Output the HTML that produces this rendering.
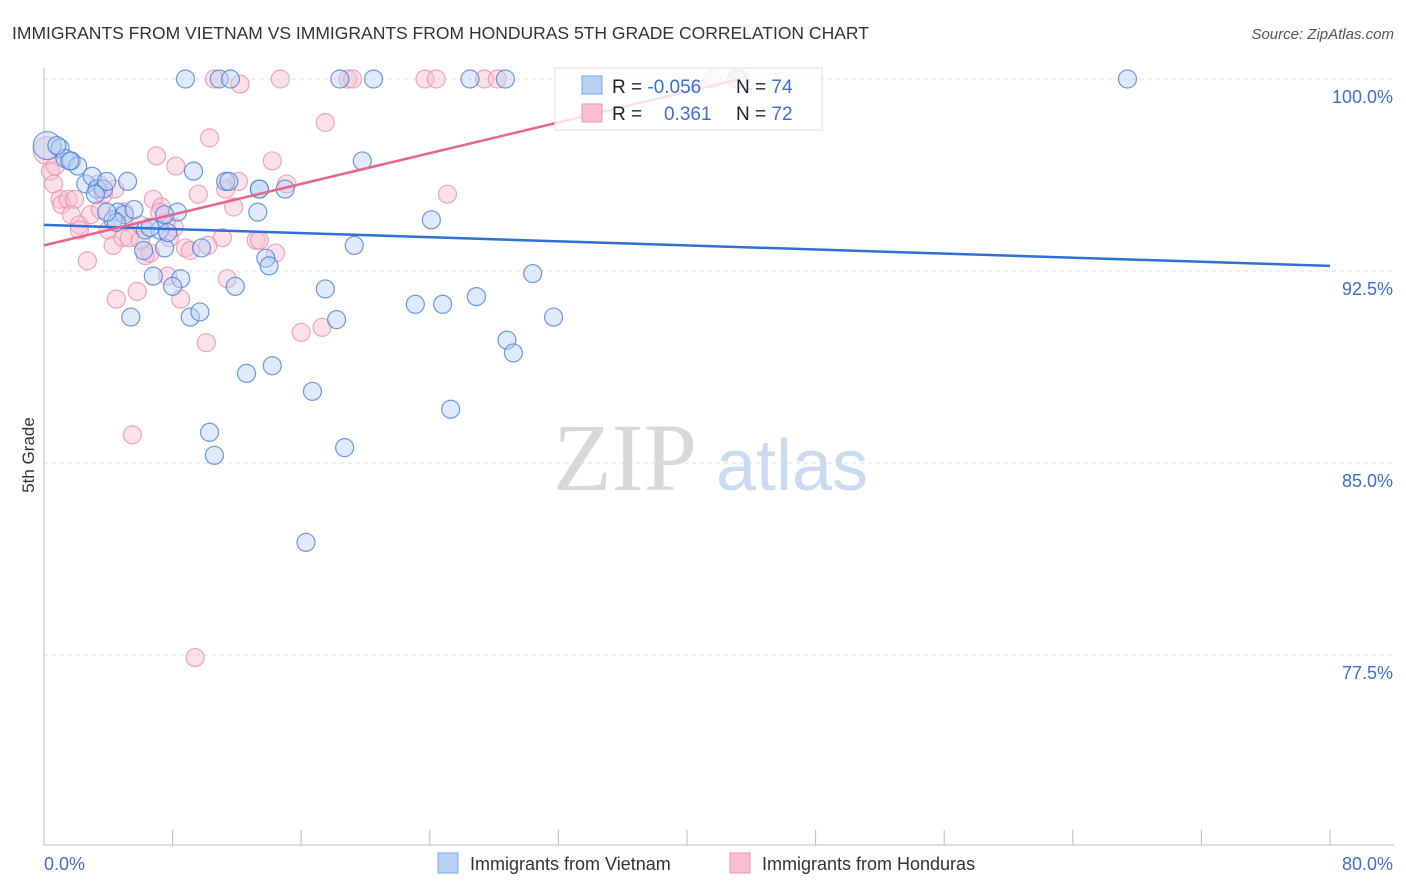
<!DOCTYPE html>
<html><head><meta charset="utf-8"><style>
body{margin:0;background:#fff;font-family:"Liberation Sans",sans-serif;}
#wrap{position:relative;width:1406px;height:892px;overflow:hidden;}
</style></head><body>
<div id="wrap">
<svg id="chart" width="1406" height="892" xmlns="http://www.w3.org/2000/svg">
<text x="12" y="39" font-size="17.5" fill="#333">IMMIGRANTS FROM VIETNAM VS IMMIGRANTS FROM HONDURAS 5TH GRADE CORRELATION CHART</text>
<text x="1394" y="39" font-size="15" fill="#555" font-style="italic" text-anchor="end">Source: ZipAtlas.com</text>
<text transform="translate(34,455) rotate(-90)" font-size="17" fill="#333" text-anchor="middle">5th Grade</text>
<g>
<text x="553" y="490" font-size="96" font-family="Liberation Serif,serif" fill="#d8d8d8">ZIP</text>
<text x="716" y="490" font-size="72" fill="#c9daf2">atlas</text>
</g>
<g id="grid"></g>
<g id="axes"></g>
<g id="points"></g>
<g id="trends"></g>
<g>
<rect x="555" y="68" width="267" height="62" fill="#fff" fill-opacity="0.8" stroke="#ddd"/>
<rect x="582" y="76" width="20" height="18" fill="#b8d1f5" stroke="#7da6e6"/>
<rect x="582" y="104" width="20" height="18" fill="#f7bfd0" stroke="#ee97b2"/>
<text x="612" y="93" font-size="19" fill="#222">R = <tspan fill="#3b6fd0">-0.056</tspan></text>
<text x="736" y="93" font-size="19" fill="#222">N = <tspan fill="#3b6fd0">74</tspan></text>
<text x="612" y="120" font-size="19" fill="#222">R = <tspan x="664" fill="#3b6fd0">0.361</tspan></text>
<text x="736" y="120" font-size="19" fill="#222">N = <tspan fill="#3b6fd0">72</tspan></text>
</g>
<g>
<rect x="438" y="853" width="20" height="20" fill="#b8d1f5" stroke="#7da6e6"/>
<text x="470" y="870" font-size="18" fill="#333">Immigrants from Vietnam</text>
<rect x="730" y="853" width="20" height="20" fill="#f7bfd0" stroke="#ee97b2"/>
<text x="762" y="870" font-size="18" fill="#333">Immigrants from Honduras</text>
</g>
</svg>
</div>
<script>
const yTicks=[100,92.5,85,77.5];
const yTickLabels=["100.0%","92.5%","85.0%","77.5%"];
const xTickLabels=["0.0%","80.0%"];
const vietX=[0.2,1.0,1.3,1.7,2.1,2.6,3.0,3.3,3.7,3.9,5.2,4.6,5.0,4.3,5.6,6.2,6.3,6.8,7.2,7.5,7.7,8.3,8.5,8.0,9.1,9.7,9.3,9.8,10.3,10.6,11.3,11.5,11.9,12.6,13.3,13.4,13.8,14.0,14.2,15.0,16.3,16.7,17.5,18.2,18.7,19.3,19.8,5.4,4.5,8.8,10.9,11.6,18.4,20.5,26.5,28.7,43.1,67.4,23.1,24.1,24.8,25.3,26.9,28.8,29.2,30.4,31.7,7.5,3.9,0.8,1.6,3.2,6.6,13.4];
const vietY=[97.4,97.3,96.9,96.8,96.6,95.9,96.2,95.7,95.7,96.0,96.0,94.8,94.7,94.5,94.9,93.3,94.1,92.3,94.1,93.4,94.0,94.8,92.2,91.9,90.7,90.9,96.4,93.4,86.2,85.3,96.0,96.0,91.9,88.5,94.8,95.7,93.0,92.7,88.8,95.7,81.9,87.8,91.8,90.6,85.6,93.5,96.8,90.7,94.4,100,100,100,100,100,100,100,100,100,91.2,94.5,91.2,87.1,91.5,89.8,89.3,92.4,90.7,94.7,94.8,97.4,96.8,95.5,94.2,95.7];
const hondX=[0.2,0.4,0.6,0.7,1.0,1.1,1.5,1.9,1.7,2.2,2.7,2.9,3.5,3.7,4.0,4.3,4.5,4.9,5.3,5.5,5.8,6.0,6.3,6.6,6.8,7.0,7.3,7.6,7.7,8.2,8.5,8.8,9.1,9.4,9.6,10.1,10.2,10.3,10.6,11.1,11.3,11.4,11.8,12.1,12.2,13.2,13.4,14.2,14.4,14.7,15.1,16.0,17.3,17.5,18.9,19.2,23.7,24.4,25.1,27.4,28.2,41.6,43.3,4.4,3.4,2.2,5.0,7.8,8.1,6.0,7.2];
const hondY=[97.2,96.4,95.9,96.6,95.3,95.1,95.3,95.3,94.7,94.3,92.9,94.7,94.9,95.5,94.1,93.5,91.4,93.8,93.8,86.1,91.7,94.3,93.1,93.2,95.3,97.0,95.0,94.4,92.3,96.6,91.4,93.4,93.3,77.4,95.5,89.7,93.5,97.7,100,93.8,95.7,92.2,95.0,96.0,99.8,93.7,93.7,96.8,93.2,100,95.9,90.1,90.3,98.3,100,100,100,100,95.5,100,100,100,100,95.7,95.9,94.1,94.8,93.8,94.2,93.7,94.8];
const vietTrendX=[0,80], vietTrendY=[94.3,92.7];
const hondTrendX=[0,43.3], hondTrendY=[93.5,100];

const NS="http://www.w3.org/2000/svg";
const X0=44,X1=1330,Y100=79,PXPER=25.6;
const xs=v=>X0+(v/80)*(X1-X0);
const ys=v=>Y100+(100-v)*PXPER;
function mk(tag,attrs,parent){const e=document.createElementNS(NS,tag);for(const k in attrs)e.setAttribute(k,attrs[k]);parent.appendChild(e);return e;}
const grid=document.getElementById('grid'),axes=document.getElementById('axes');
yTicks.forEach((t,i)=>{
 const l=mk('line',{x1:44,x2:1394,y1:ys(t),y2:ys(t),stroke:'#ddd','stroke-dasharray':'4,4'},grid);
 
 
 const tx=mk('text',{x:1393,y:ys(t)+24,'font-size':18,fill:'#3b6fd0','text-anchor':'end'},axes);
 tx.textContent=yTickLabels[i];
 
 
});
const ya=mk('line',{x1:44,x2:44,y1:68,y2:845,stroke:'#bbb'},axes);


const xa=mk('line',{x1:44,x2:1394,y1:845,y2:845,stroke:'#bbb'},axes);


for(let i=0;i<=10;i++){
 const t=mk('line',{x1:xs(i*8),x2:xs(i*8),y1:830,y2:845,stroke:'#bbb'},axes);
 
 
}
const xl0=mk('text',{x:44,y:870,'font-size':18,fill:'#3b6fd0'},axes);
xl0.textContent=xTickLabels[0];


const xl1=mk('text',{x:1393,y:870,'font-size':18,fill:'#3b6fd0','text-anchor':'end'},axes);
xl1.textContent=xTickLabels[1];



const pts=document.getElementById('points');
function drawSeries(X,Y,fill,stroke,name){
 X.forEach((x,i)=>{
  const r=(i===0)?14:9;
  const c=mk('circle',{cx:xs(x),cy:ys(Y[i]),r:r,fill:fill,'fill-opacity':0.45,stroke:stroke,'stroke-width':1.2,'stroke-opacity':0.8},pts);
  
  
 });
}
drawSeries(hondX,hondY,'#f7bfd0','#ee8fae','point-honduras');
drawSeries(vietX,vietY,'#b8d1f5','#4a80d8','point-vietnam');
const tr=document.getElementById('trends');
const lv=mk('line',{x1:xs(vietTrendX[0]),y1:ys(vietTrendY[0]),x2:xs(vietTrendX[1]),y2:ys(vietTrendY[1]),stroke:'#2f6fd6','stroke-width':2.5},tr);


const lh=mk('line',{x1:xs(hondTrendX[0]),y1:ys(hondTrendY[0]),x2:xs(hondTrendX[1]),y2:ys(hondTrendY[1]),stroke:'#e8648f','stroke-width':2.5},tr);


</script>
</body></html>
